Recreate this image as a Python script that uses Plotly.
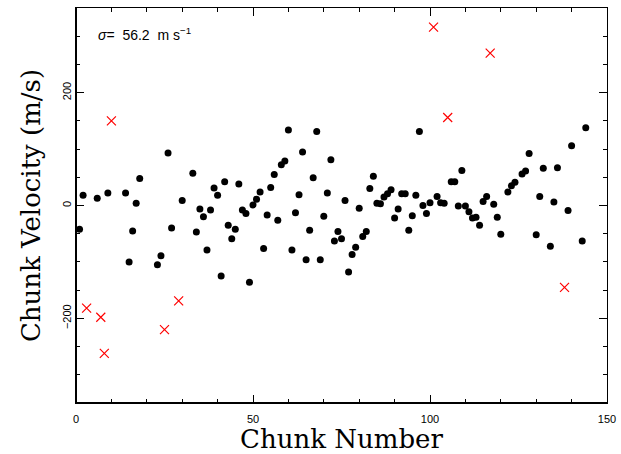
import plotly.graph_objects as go

# Accepted chunks (black dots)
good_chunk = [1, 2, 6, 9, 14, 15, 16, 17, 18, 23, 24, 26, 27, 30,
              33, 34, 35, 36, 37, 38, 39, 40, 41, 42, 43, 44, 45, 46, 47, 48, 49, 50,
              51, 52, 53, 54, 55, 56, 57, 58, 59, 60, 61,
              62, 63, 64, 65, 66, 67, 68, 69, 70, 71, 72, 73, 74, 75, 76, 77, 78, 79, 80,
              81, 82, 83, 84, 85, 86, 87, 88, 89, 90, 91, 92, 93,
              94, 95, 96, 97, 98, 99, 100, 102, 103, 104, 106, 107, 108, 109, 110,
              111, 112, 113, 114, 115, 116, 118, 119, 120, 122, 123, 124, 126, 127, 128,
              130, 131, 132, 134, 135, 136, 139, 140, 143, 144]
good_vel = [-42, 18, 13, 22, 22, -100, -45, 4, 48, -105, -89, 93, -40, 9,
            57, -47, -6, -20, -79, -8, 31, 18, -125, 42, -35, -59, -42, 38, -8, -14, -136, 1,
            11, 24, -76, -17, 32, 55, -26, 72, 79, 134, -79,
            -13, 19, 95, -96, -44, 49, 131, -96, -19, 22, 81, -63, -46, -59, 9, -118, -87, -74, -5,
            -55, -46, 30, 52, 4, 3, 15, 21, 28, -22, -6, 21, 21,
            -44, -18, 18, 131, 0, -14, 5, 16, 5, 4, 42, 42, -1, 62, -1,
            -11, -22, -21, -35, 7, 16, 2, -21, -51, 24, 35, 41, 56, 61, 92,
            -52, 16, 66, -72, 6, 67, -9, 106, -63, 138]

# Rejected chunks (red crosses)
bad_chunk = [3, 7, 8, 10, 25, 29, 101, 105, 117, 138]
bad_vel = [-182, -198, -262, 150, -220, -169, 316, 156, 270, -145]

x_ticks = [0, 50, 100, 150]
y_ticks = [-200, 0, 200]

fig = go.Figure()
fig.add_trace(go.Scatter(x=good_chunk, y=good_vel, mode="markers",
                         marker=dict(color="black", size=7, symbol="circle"),
                         showlegend=False))
fig.add_trace(go.Scatter(x=bad_chunk, y=bad_vel, mode="markers",
                         marker=dict(color="red", size=9, symbol="x-thin",
                                     line=dict(color="red", width=1.2)),
                         showlegend=False))

axis_common = dict(showgrid=False, zeroline=False, showline=True, linecolor="black",
                   linewidth=1, mirror="ticks", ticks="inside", ticklen=8, tickwidth=1,
                   tickcolor="black", automargin=False,
                   tickfont=dict(family="Liberation Sans", size=11, color="black"))

fig.update_xaxes(range=[0, 150], tickvals=x_ticks, ticktext=[str(v) for v in x_ticks],
                 ticklabelstandoff=6,
                 minor=dict(dtick=10, ticks="inside", ticklen=4, tickcolor="black", tickwidth=1),
                 title=dict(text="Chunk Number", standoff=8,
                            font=dict(family="DejaVu Serif", size=26, color="black")),
                 **axis_common)
fig.update_yaxes(range=[-350, 350], tickvals=y_ticks, ticktext=["\u2212200", "0", "200"],
                 tickangle=-90,
                 minor=dict(dtick=50, tick0=0, ticks="inside", ticklen=4, tickcolor="black", tickwidth=1),
                 title=dict(text="Chunk Velocity (m/s)", standoff=12,
                            font=dict(family="DejaVu Serif", size=26, color="black")),
                 **axis_common)

# Heavier bottom/left frame lines
fig.add_shape(type="line", xref="paper", yref="paper", x0=0, x1=1, y0=0, y1=0,
              line=dict(color="black", width=2))
fig.add_shape(type="line", xref="paper", yref="paper", x0=0, x1=0, y0=0, y1=1,
              line=dict(color="black", width=2))

fig.add_annotation(xref="paper", yref="paper", x=0.038, y=0.935, xanchor="left", yanchor="middle",
                   text="<i>\u03c3</i>=  56.2  m s<sup>\u22121</sup>", showarrow=False,
                   font=dict(family="Liberation Sans", size=14, color="black"))

fig.update_layout(width=621, height=454, margin=dict(l=76, r=14, t=8, b=51),
                  paper_bgcolor="white", plot_bgcolor="white")

fig.write_html("out.html")
